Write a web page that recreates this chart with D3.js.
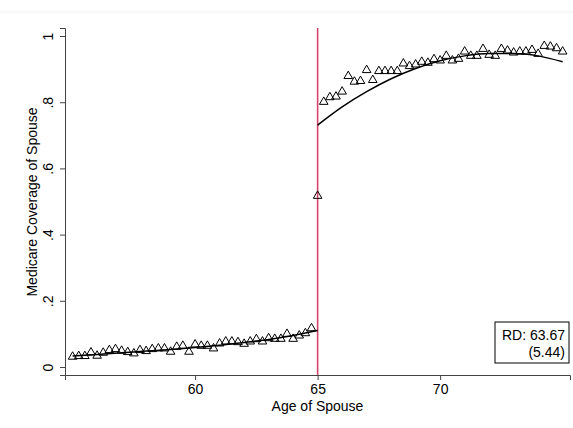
<!DOCTYPE html>
<html>
<head>
<meta charset="utf-8">
<script src="https://d3js.org/d3.v7.min.js"></script>
<style>
  body { margin: 0; background: #fff; }
  text { font-family: Arial, "Liberation Sans", sans-serif; fill: #000; }
</style>
</head>
<body>
<div id="chart"></div>
<script>
// binned means, quarterly ages
var leftAges = d3.range(40).map(function(i) { return 55 + i * 0.25; });
var leftVals = [0.031, 0.033, 0.033, 0.044, 0.034, 0.043, 0.051, 0.054, 0.049, 0.045,
                0.041, 0.051, 0.048, 0.054, 0.056, 0.056, 0.046, 0.061, 0.064, 0.046,
                0.068, 0.064, 0.064, 0.056, 0.071, 0.077, 0.077, 0.075, 0.070, 0.077,
                0.084, 0.077, 0.087, 0.085, 0.085, 0.100, 0.085, 0.095, 0.102, 0.117];
var cutAge = 65;
var cutVal = 0.517;
var rightAges = d3.range(40).map(function(i) { return 65.25 + i * 0.25; });
var rightVals = [0.801, 0.815, 0.817, 0.832, 0.879, 0.862, 0.864, 0.897, 0.867, 0.894,
                 0.894, 0.894, 0.894, 0.917, 0.909, 0.914, 0.922, 0.919, 0.930, 0.926,
                 0.940, 0.926, 0.931, 0.953, 0.940, 0.940, 0.961, 0.943, 0.940, 0.961,
                 0.956, 0.950, 0.953, 0.953, 0.958, 0.946, 0.970, 0.968, 0.963, 0.953];

// fitted lines
var fitLeftAges = [55, 56, 57, 58, 59, 60, 61, 62, 63, 64, 65];
var fitLeftVals = [0.033, 0.038, 0.043, 0.048, 0.053, 0.059, 0.066, 0.074, 0.083, 0.095, 0.110];
var fitRightAges = [65, 66, 67, 68, 69, 70, 71, 72, 73, 74, 75];
var fitRightVals = [0.731, 0.786, 0.832, 0.871, 0.902, 0.925, 0.940, 0.947, 0.947, 0.940, 0.922];

var xTicks = [60, 65, 70];
var yTicks = [0, 0.2, 0.4, 0.6, 0.8, 1];
var yTickLabels = ["0", ".2", ".4", ".6", ".8", "1"];

var width = 573, height = 428;
var svg = d3.select("#chart").append("svg")
    .attr("width", width)
    .attr("height", height);

// faint outer border line at the top
svg.append("line")
    .attr("x1", 0).attr("x2", width)
    .attr("y1", 12).attr("y2", 12)
    .style("stroke", "#eef1f3");

var x = d3.scaleLinear().domain([54.69, 75.3]).range([65, 570]);
var y = d3.scaleLinear().domain([-0.0242, 1.0242]).range([375, 28]);

var xAxis = svg.append("g")
    .attr("transform", "translate(0,375)")
    .call(d3.axisBottom(x).tickValues(xTicks).tickSizeOuter(0).tickSize(5).tickPadding(4));
xAxis.selectAll("text").style("font-size", "14px");

var yAxis = svg.append("g")
    .attr("transform", "translate(65,0)")
    .call(d3.axisLeft(y).tickValues(yTicks).tickSizeOuter(0).tickSize(5)
        .tickFormat(function(d, i) { return yTickLabels[i]; }));
yAxis.selectAll("text")
    .style("font-size", "14px")
    .attr("x", null).attr("dy", null)
    .attr("text-anchor", "middle")
    .attr("transform", "translate(-12,0) rotate(-90)");

svg.selectAll(".domain, .tick line").style("stroke", "#444");

svg.append("text")
    .attr("transform", "translate(37,202) rotate(-90)")
    .attr("text-anchor", "middle")
    .style("font-size", "14px")
    .text("Medicare Coverage of Spouse");

svg.append("text")
    .attr("x", 317.5).attr("y", 411)
    .attr("text-anchor", "middle")
    .style("font-size", "14px")
    .text("Age of Spouse");

// cutoff
svg.append("line")
    .attr("x1", x(cutAge)).attr("x2", x(cutAge))
    .attr("y1", y.range()[1]).attr("y2", y.range()[0])
    .style("stroke", "#d6436c")
    .style("stroke-width", 1.6);

// fitted curves
var line = d3.line()
    .x(function(d) { return x(d[0]); })
    .y(function(d) { return y(d[1]); })
    .curve(d3.curveMonotoneX);

[[fitLeftAges, fitLeftVals], [fitRightAges, fitRightVals]].forEach(function(f) {
    svg.append("path")
        .datum(d3.zip(f[0], f[1]))
        .attr("d", line)
        .style("fill", "none")
        .style("stroke", "#000")
        .style("stroke-width", 1.5);
});

// binned points
var points = d3.zip(leftAges, leftVals)
    .concat([[cutAge, cutVal]])
    .concat(d3.zip(rightAges, rightVals));

var tri = d3.symbol().type(d3.symbolTriangle).size(32);
svg.append("g")
    .selectAll("path")
    .data(points)
    .enter().append("path")
    .attr("d", tri)
    .attr("transform", function(d) { return "translate(" + x(d[0]) + "," + y(d[1]) + ")"; })
    .style("fill", "none")
    .style("stroke", "#000")
    .style("stroke-width", 1);

// RD box
var box = svg.append("g");
box.append("rect")
    .attr("x", 495).attr("y", 322)
    .attr("width", 74).attr("height", 41)
    .style("fill", "#fff")
    .style("stroke", "#000")
    .style("stroke-width", 1);
box.append("text")
    .attr("x", 565).attr("y", 340)
    .attr("text-anchor", "end")
    .style("font-size", "14px")
    .text("RD: 63.67");
box.append("text")
    .attr("x", 565).attr("y", 357)
    .attr("text-anchor", "end")
    .style("font-size", "14px")
    .text("(5.44)");
</script>
</body>
</html>
